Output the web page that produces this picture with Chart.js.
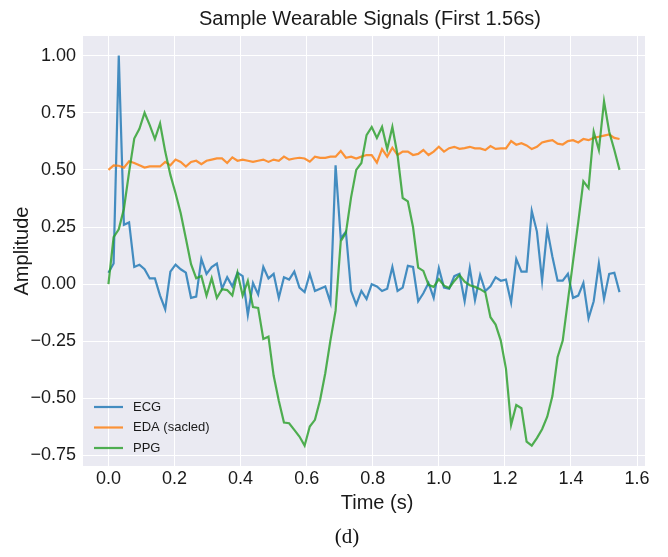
<!DOCTYPE html>
<html>
<head>
<meta charset="utf-8">
<script src="https://cdn.jsdelivr.net/npm/chart.js"></script>
<style>
  html, body { margin: 0; padding: 0; background: #fff; }
  #wrap { position: relative; width: 668px; height: 557px; }
  #caption {
    position: absolute; left: 317px; width: 60px; top: 524px;
    text-align: center; font-family: "Liberation Serif", "Times New Roman", serif;
    font-size: 21px; color: #111;
  }
</style>
</head>
<body>
<div id="wrap">
  <canvas id="chart" width="668" height="557"></canvas>
  <div id="caption">(d)</div>
</div>
<script>
// signals sampled at 64 Hz, first 100 samples
const sampleRate = 64;

const ecg = [
  0.05, 0.09, 1.00, 0.26, 0.27, 0.075, 0.085, 0.065, 0.025, 0.025,
  -0.05, -0.11, 0.055, 0.085, 0.065, 0.05, -0.06, -0.055, 0.11, 0.045,
  0.075, 0.09, -0.02, 0.03, -0.01, 0.05, 0.035, -0.135, 0.005, -0.045,
  0.075, 0.025, 0.045, -0.06, 0.03, 0.02, 0.055, -0.015, -0.035, 0.045,
  -0.03, -0.02, -0.01, -0.08, 0.52, 0.20, 0.23, -0.03, -0.09, -0.03,
  -0.065, 0.0, -0.01, -0.03, -0.02, 0.075, -0.03, -0.015, 0.08, 0.075,
  -0.075, -0.04, 0.005, -0.06, 0.07, -0.015, -0.02, 0.035, 0.045, -0.075,
  0.07, -0.07, 0.04, -0.03, -0.01, 0.03, 0.015, 0.02, -0.08, 0.11,
  0.055, 0.055, 0.32, 0.23, 0.015, 0.24, 0.12, 0.015, 0.015, 0.045,
  -0.06, -0.05, 0.005, -0.15, -0.075, 0.09, -0.065, 0.045, 0.05, -0.035
];

const eda = [
  0.50, 0.52, 0.518, 0.51, 0.538, 0.53, 0.52, 0.51, 0.515, 0.515,
  0.515, 0.535, 0.52, 0.545, 0.535, 0.515, 0.535, 0.54, 0.525, 0.54,
  0.545, 0.55, 0.55, 0.53, 0.555, 0.54, 0.545, 0.54, 0.535, 0.54,
  0.545, 0.535, 0.545, 0.54, 0.558, 0.545, 0.55, 0.553, 0.55, 0.536,
  0.558, 0.553, 0.553, 0.558, 0.558, 0.583, 0.553, 0.558, 0.55, 0.558,
  0.565, 0.565, 0.532, 0.591, 0.558, 0.597, 0.565, 0.58, 0.58, 0.565,
  0.57, 0.587, 0.565, 0.58, 0.601, 0.58, 0.595, 0.601, 0.592, 0.595,
  0.601, 0.594, 0.594, 0.587, 0.604, 0.592, 0.594, 0.594, 0.626, 0.61,
  0.617, 0.607, 0.591, 0.601, 0.62, 0.626, 0.63, 0.615, 0.611, 0.626,
  0.63, 0.62, 0.635, 0.63, 0.64, 0.645, 0.65, 0.655, 0.64, 0.635
];

const ppg = [
  0.0, 0.206, 0.24, 0.33, 0.49, 0.637, 0.68, 0.75, 0.696, 0.635,
  0.703, 0.58, 0.478, 0.398, 0.31, 0.20, 0.087, 0.026, 0.036, -0.05,
  0.026, -0.06, -0.022, -0.026, -0.05, 0.05, -0.05, 0.014, -0.10, -0.104,
  -0.24, -0.23, -0.40, -0.51, -0.606, -0.609, -0.638, -0.667, -0.707, -0.623,
  -0.594, -0.507, -0.39, -0.246, -0.116, 0.188, 0.224, 0.38, 0.50, 0.53,
  0.652, 0.688, 0.64, 0.688, 0.591, 0.688, 0.565, 0.377, 0.362, 0.25,
  0.072, 0.058, -0.003, -0.012, 0.022, -0.007, -0.017, 0.014, 0.04, 0.011,
  -0.005, -0.012, -0.022, -0.036, -0.145, -0.177, -0.247, -0.37, -0.616, -0.529,
  -0.543, -0.689, -0.707, -0.674, -0.635, -0.58, -0.49, -0.32, -0.247, -0.073,
  0.10, 0.27, 0.45, 0.42, 0.667, 0.587, 0.80, 0.667, 0.587, 0.50
];

const seriesLabels = ["ECG", "EDA (sacled)", "PPG"];
const seriesColors = ["rgba(31,119,180,0.82)", "rgba(255,127,14,0.82)", "rgba(44,160,44,0.82)"];

const xTicks = [0.0, 0.2, 0.4, 0.6, 0.8, 1.0, 1.2, 1.4, 1.6];
const yTicks = [-0.75, -0.5, -0.25, 0.0, 0.25, 0.5, 0.75, 1.0];

const time = ecg.map((_, i) => i / sampleRate);

const FONT = "'Liberation Sans', Arial, sans-serif";
const TEXT = "#1a1a1a";

function toPoints(values) {
    return values.map((v, i) => ({ x: time[i], y: v }));
}

function minus(s) {
    return s.replace("-", "\u2212");
}

// grey plot area like seaborn darkgrid
const plotBg = {
    id: "plotBg",
    beforeDraw(chart) {
        const { ctx, chartArea: a } = chart;
        ctx.save();
        ctx.fillStyle = "#EAEAF2";
        ctx.fillRect(a.left, a.top, a.right - a.left, a.bottom - a.top);
        ctx.restore();
    }
};

// title, x label and legend inside the lower left corner
const overlay = {
    id: "overlay",
    afterDraw(chart) {
        const { ctx, chartArea: a } = chart;
        ctx.save();
        ctx.fillStyle = TEXT;
        ctx.font = "20px " + FONT;
        ctx.textAlign = "center";
        ctx.textBaseline = "middle";
        ctx.fillText("Sample Wearable Signals (First 1.56s)", 370, 19);
        ctx.fillText("Time (s)", 377, 503);

        ctx.font = "13px " + FONT;
        ctx.textAlign = "left";
        seriesLabels.forEach((label, i) => {
            const y = a.bottom - 59 + i * 20.5;
            ctx.strokeStyle = seriesColors[i];
            ctx.lineWidth = 2.2;
            ctx.beginPath();
            ctx.moveTo(a.left + 11, y);
            ctx.lineTo(a.left + 40, y);
            ctx.stroke();
            ctx.fillStyle = TEXT;
            ctx.fillText(label, a.left + 50, y);
        });
        ctx.restore();
    }
};

const ctx = document.getElementById("chart").getContext("2d");

new Chart(ctx, {
    type: "line",
    data: {
        datasets: [ecg, eda, ppg].map((vals, i) => ({
            label: seriesLabels[i],
            data: toPoints(vals),
            borderColor: seriesColors[i],
            borderWidth: 2.2,
            pointRadius: 0,
            tension: 0,
            fill: false,
            order: 2 - i
        }))
    },
    options: {
        responsive: false,
        animation: false,
        layout: { padding: { left: 0, right: 23, top: 36, bottom: 41 } },
        plugins: {
            legend: { display: false },
            tooltip: { enabled: false },
            title: { display: false }
        },
        scales: {
            x: {
                type: "linear",
                min: -0.077,
                max: 1.624,
                afterBuildTicks: s => { s.ticks = xTicks.map(v => ({ value: v })); },
                afterFit: s => { s.height = 50; },
                grid: { color: "#ffffff", lineWidth: 1, drawTicks: false },
                border: { display: false },
                ticks: {
                    autoSkip: false,
                    maxRotation: 0,
                    padding: 2,
                    color: TEXT,
                    font: { family: FONT, size: 18 },
                    callback: v => v.toFixed(1)
                },
                title: { display: false }
            },
            y: {
                min: -0.796,
                max: 1.086,
                afterBuildTicks: s => { s.ticks = yTicks.map(v => ({ value: v })); },
                afterFit: s => { s.width = 83; },
                grid: { color: "#ffffff", lineWidth: 1, drawTicks: false },
                border: { display: false },
                ticks: {
                    autoSkip: false,
                    padding: 7,
                    color: TEXT,
                    font: { family: FONT, size: 18 },
                    callback: v => minus(v.toFixed(2))
                },
                title: {
                    display: true,
                    text: "Amplitude",
                    color: TEXT,
                    font: { family: FONT, size: 20 },
                    padding: { top: 10, bottom: 0 }
                }
            }
        }
    },
    plugins: [plotBg, overlay]
});
</script>
</body>
</html>
